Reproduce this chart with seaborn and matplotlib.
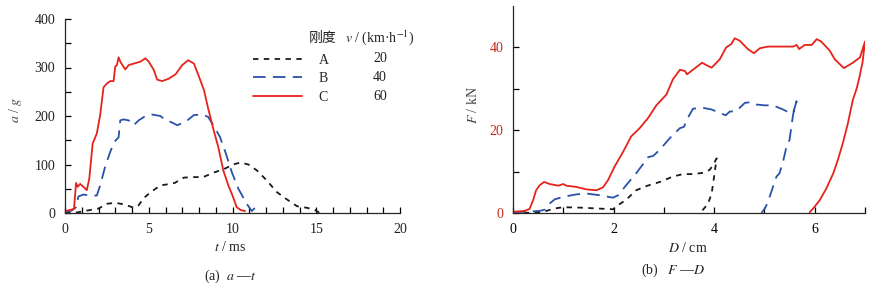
import numpy as np
import pandas as pd
import matplotlib
matplotlib.use("Agg")
import matplotlib.pyplot as plt
import seaborn as sns
from matplotlib.lines import Line2D

# ---------------- data: (a) a-t ----------------
tA = [0, 0.7, 1.3, 2.0, 2.5, 3.0, 3.5, 4.1, 4.4, 4.7, 5.2, 5.7, 6.1, 6.55, 7.1, 7.7, 8.25, 8.85,
      9.45, 10.05, 10.45, 10.95, 11.45, 12.05, 12.65, 13.25, 13.85, 14.4, 14.9, 15.2]
aA = [1, 1, 5, 9, 19, 21, 18, 11, 16, 31, 45, 57, 59, 62, 73, 74, 74, 83,
      90, 100, 104, 100, 88, 67, 43, 28, 14, 11, 7, 0]

tB = [0, 0.4, 0.66, 0.8, 1.1, 1.5, 1.9, 2.1, 2.4, 2.7, 2.95, 3.2, 3.3, 3.5, 3.8, 4.1, 4.4, 4.8,
      5.2, 5.7, 6.0, 6.3, 6.7, 7.2, 7.7, 8.2, 8.55, 8.85, 9.25, 9.6, 9.95, 10.35, 10.85, 11.15,
      11.35, 11.55]
aB = [2, 5, 12, 34, 38, 36, 36, 57, 96, 126, 147, 156, 191, 193, 191, 181, 191, 200,
      203, 200, 191, 188, 181, 188, 202, 203, 198, 181, 157, 123, 85, 50, 19, 4,
      11, 8]

tC = [0, 0.4, 0.54, 0.66, 0.76, 0.9, 1.1, 1.3, 1.45, 1.65, 1.9, 2.1, 2.3, 2.5, 2.7, 2.9, 3.0,
      3.1, 3.2, 3.3, 3.6, 3.8, 4.1, 4.5, 4.8, 5.0, 5.3, 5.5, 5.8, 6.2, 6.6, 7.0, 7.35, 7.7,
      8.0, 8.3, 8.55, 8.85, 9.15, 9.45, 9.75, 10.0, 10.25, 10.5, 10.75]
aC = [4, 7, 9, 62, 54, 60, 54, 47, 71, 143, 164, 202, 259, 267, 272, 272, 302,
      305, 321, 312, 296, 305, 308, 312, 319, 312, 295, 275, 272, 277, 286, 305, 315, 308,
      281, 253, 215, 174, 136, 88, 57, 36, 12, 6, 4]

# ---------------- data: (b) F-D ----------------
dA = [0, 0.46, 0.66, 0.83, 1.0, 1.33, 1.66, 1.99, 2.09, 2.25, 2.45, 2.65, 2.92, 3.18, 3.38,
      3.58, 3.78, 3.91, 3.98, 4.05, 3.99, 3.95, 3.88, 3.78, 3.68]
fA = [0, 0.1, 0.5, 1.1, 1.4, 1.3, 1.1, 0.9, 1.9, 3.2, 5.5, 6.5, 7.5, 8.8, 9.4,
      9.4, 9.7, 10.4, 11.6, 13.2, 8.0, 4.7, 2.3, 0.8, 0]

dB = [0, 0.27, 0.53, 0.63, 0.73, 0.83, 1.0, 1.26, 1.46, 1.72, 1.99, 2.09, 2.25, 2.45, 2.69,
      2.79, 2.92, 3.12, 3.32, 3.4, 3.46, 3.58, 3.78, 3.95, 4.11, 4.23, 4.31, 4.44, 4.61, 4.74,
      4.84, 5.01, 5.17, 5.37, 5.5, 5.57, 5.64, 5.57, 5.5, 5.44, 5.37, 5.3, 5.24, 5.17, 5.07,
      5.01, 4.94]
fB = [0.2, 0.3, 0.5, 0.8, 2.3, 3.3, 3.9, 4.5, 4.7, 4.3, 3.7, 4.3, 6.7, 9.6, 13.5,
      13.8, 15.3, 18.1, 20.5, 20.8, 22.6, 25.2, 25.4, 25.0, 24.2, 23.6, 24.5, 24.6, 26.6, 26.8,
      26.2, 26.0, 26.0, 25.0, 24.2, 24.2, 27.0, 23.8, 17.7, 16.1, 12.4, 9.6, 8.8, 6.3, 2.7,
      1.1, 0]

dC = [0, 0.23, 0.33, 0.4, 0.46, 0.53, 0.62, 0.73, 0.9, 1.0, 1.06, 1.26, 1.46, 1.66, 1.79,
      1.89, 2.02, 2.19, 2.35, 2.52, 2.69, 2.85, 3.05, 3.18, 3.32, 3.42, 3.46, 3.61, 3.76, 3.85,
      3.95, 4.11, 4.24, 4.34, 4.41, 4.51, 4.67, 4.79, 4.91, 5.07, 5.3, 5.57, 5.64, 5.69, 5.8,
      5.94, 6.04, 6.13, 6.3, 6.4, 6.58, 6.76, 6.9, 7.0, 6.95, 6.88, 6.83, 6.76, 6.66, 6.56,
      6.46, 6.37, 6.23, 6.1, 5.97, 5.9]
fC = [0.3, 0.5, 1.0, 3.1, 5.5, 6.7, 7.5, 7.0, 6.6, 7.0, 6.6, 6.3, 5.7, 5.5, 6.2,
      7.95, 11.2, 14.8, 18.5, 20.5, 23, 26, 28.6, 32.3, 34.6, 34.3, 33.5, 34.9, 36.3, 35.7,
      35.1, 37.1, 40, 40.8, 42.2, 41.6, 39.6, 38.6, 39.8, 40.2, 40.2, 40.2, 40.6, 39.6, 40.6,
      40.6, 42, 41.4, 39.2, 37.1, 35, 36.3, 37.6, 41.4, 36.3, 32.3, 29.9, 27.4, 21.7, 16.9,
      12.8, 9.6, 5.9, 3.1, 1.1, 0.2]

stiffness = ["A", "B", "C"]
speeds = ["20", "40", "60"]
a_xticks = [0, 5, 10, 15, 20]
a_yticks = [0, 100, 200, 300, 400]
b_xticks = [0, 2, 4, 6]
b_yticks = [0, 20, 40]

# ---------------- style ----------------
sns.set_theme(style="ticks")
plt.rcParams["font.family"] = ["Liberation Serif", "Noto Sans CJK SC", "DejaVu Sans"]
plt.rcParams["mathtext.fontset"] = "stix"
plt.rcParams["axes.linewidth"] = 0.9

colors = {"A": "#1a1a1a", "B": "#2a52a8", "C": "#e6231a"}
styles = {"A": (0, (3, 3)), "B": (0, (7, 4)), "C": "-"}
LW = 1.3
FS = 10

fig = plt.figure(figsize=(8.82, 2.83), dpi=100)
ax1 = fig.add_axes([65 / 882, 1 - 213 / 283, 335 / 882, 194 / 283])
ax2 = fig.add_axes([513 / 882, 1 - 213 / 283, 352 / 882, 207 / 283])

def line(ax, x, y, key):
    df = pd.DataFrame({"x": x, "y": y})
    sns.lineplot(data=df, x="x", y="y", ax=ax, sort=False, estimator=None,
                 color=colors[key], linestyle=styles[key], linewidth=LW)

line(ax1, tA, aA, "A")
line(ax1, tB, aB, "B")
line(ax1, tC, aC, "C")
line(ax2, dA, fA, "A")
line(ax2, dB, fB, "B")
line(ax2, dC, fC, "C")

for ax in (ax1, ax2):
    sns.despine(ax=ax)
    ax.tick_params(which="both", direction="in", length=4, width=0.9,
                   labelsize=FS, colors="black", pad=7)
    ax.tick_params(axis="y", pad=7)

ax1.set_xlim(0, 20)
ax1.set_ylim(0, 400)
ax1.set_xticks(a_xticks)
ax1.set_yticks(a_yticks)
ax1.set_xticks(np.arange(0, 21, 1), minor=True)
ax1.set_yticks(np.arange(50, 400, 100), minor=True)
for lab in ax1.get_xticklabels() + ax1.get_yticklabels():
    lab.set_color("#222222")

ax2.set_xlim(0, 7)
ax2.set_ylim(0, 50)
ax2.set_xticks(b_xticks)
ax2.set_yticks(b_yticks)
ax2.set_xticks(np.arange(0, 8, 1), minor=True)
ax2.set_yticks([10, 30], minor=True)
for lab in ax2.get_yticklabels():
    lab.set_color("#c8281e")

for ax, xl, yl, xc, yc in (
        (ax1, r"$t$ / ms", r"$a$ / $g$", (0.4925, -0.175), (-0.149, 0.53)),
        (ax2, r"$D$ / cm", r"$F$ / kN", (0.497, -0.169), (-0.114, 0.52))):
    ax.set_xlabel(xl, fontsize=FS, color="#222222", va="center")
    ax.set_ylabel(yl, fontsize=FS, color="#444444", va="center")
    ax.xaxis.set_label_coords(*xc)
    ax.yaxis.set_label_coords(*yc)

# legend (table style)
handles = [Line2D([], [], color=colors[k], linestyle=styles[k], linewidth=LW) for k in stiffness]
leg = ax1.legend(handles, stiffness, loc="center", bbox_to_anchor=(0.675, 0.693),
                 frameon=False, fontsize=FS, handlelength=3.5, handletextpad=1.2,
                 labelspacing=0.4, borderpad=0, borderaxespad=0)
ax1.text(0.77, 0.902, "刚度", transform=ax1.transAxes, ha="center", va="center",
         fontsize=FS, family=["Noto Sans CJK SC", "DejaVu Sans"], color="#222222")
ax1.text(0.94, 0.902, r"$v$ / (km·h$^{-1}$)", transform=ax1.transAxes, ha="center",
         va="center", fontsize=FS, color="#222222")
for i, s in enumerate(speeds):
    ax1.text(0.94, [0.794, 0.696, 0.598][i], s, transform=ax1.transAxes, ha="center",
             va="center", fontsize=FS, color="#222222")

fig.text(230 / 882, 1 - 276 / 283, r"(a)  $a$ —$t$", ha="center", va="center",
         fontsize=FS, color="#222222")
fig.text(673 / 882, 1 - 270 / 283, r"(b)   $F$ —$D$", ha="center", va="center",
         fontsize=FS, color="#222222")

fig.savefig("out.png", dpi=100)
